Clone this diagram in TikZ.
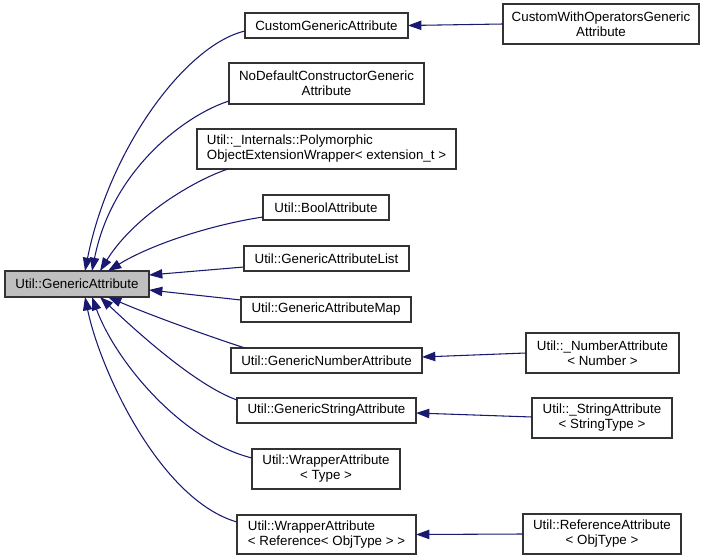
\documentclass[tikz,border=0pt]{standalone}
\usepackage{fontspec}
\setmainfont{Liberation Sans}
\usetikzlibrary{arrows.meta,calc}
\definecolor{navy}{HTML}{191970}
\definecolor{grey75}{HTML}{BFBFBF}
\definecolor{boxline}{HTML}{333333}
\begin{document}
\begin{tikzpicture}[x=0.75pt,y=-0.75pt,
  box/.style n args={2}{draw=boxline, line width=0.85pt, minimum width=#1*0.75pt,
    minimum height=#2*0.75pt, inner sep=0pt, outer sep=0pt,
    font=\fontsize{10}{11.25}\selectfont, align=center},
  edge/.style={draw=navy, line width=0.8pt, -{Triangle[length=10pt,width=7pt]}}]
\useasboundingbox (0,0) rectangle (707,560);
% nodes
\node[box={144}{26}, fill=grey75] (GA) at (77,284) {Util::GenericAttribute};
\node[box={163}{25}] (CGA) at (326.5,25.5) {CustomGenericAttribute};
\node[box={196}{40}] (CWO) at (601,24) {CustomWithOperatorsGeneric\\Attribute};
\node[box={195}{41}] (ND) at (326.5,83.5) {NoDefaultConstructorGeneric\\Attribute};
\node[box={259}{40}, align=left] (PM) at (326.5,149) {Util::\_Internals::Polymorphic\\ObjectExtensionWrapper< extension\_t >};
\node[box={126}{25}] (BA) at (326,207.5) {Util::BoolAttribute};
\node[box={165}{25}] (GAL) at (326.5,258.5) {Util::GenericAttributeList};
\node[box={170}{25}] (GAM) at (326,309.5) {Util::GenericAttributeMap};
\node[box={191}{25}] (GNA) at (326.5,360.5) {Util::GenericNumberAttribute};
\node[box={153}{40}] (NA) at (602.5,353) {Util::\_NumberAttribute\\< Number >};
\node[box={179}{25}] (GSA) at (326.5,410.5) {Util::GenericStringAttribute};
\node[box={140}{40}] (SA) at (602,418) {Util::\_StringAttribute\\< StringType >};
\node[box={148}{40}] (WT) at (326,469) {Util::WrapperAttribute\\< Type >};
\node[box={179}{39}, align=left] (WR) at (326.5,534.5) {Util::WrapperAttribute\\< Reference< ObjType > >};
\node[box={158}{40}] (RA) at (602,534) {Util::ReferenceAttribute\\< ObjType >};
% right-hand edges
\draw[edge] (CWO.west) -- (CGA.east);
\draw[edge] (NA.west) -- ($(GNA.east)+(0,-3.5)$);
\draw[edge] ($(SA.west)+(0,-1)$) -- ($(GSA.east)+(0,2.5)$);
\draw[edge] (RA.west) -- (WR.east);
% edges into GA, top
\draw[edge] ($(CGA.west)+(0,5.5)$) .. controls (185,45) and (109,150) .. ($(GA.north west)+(80,0)$);
\draw[edge] ($(ND.west)+(0,17.5)$) .. controls (185,115) and (112,170) .. ($(GA.north west)+(87,0)$);
\draw[edge] ($(PM.south west)+(31,0)$) .. controls (195,180) and (135,215) .. ($(GA.north west)+(95,0)$);
\draw[edge] ($(BA.west)+(0,9.5)$) .. controls (210,225) and (150,245) .. ($(GA.north west)+(103,0)$);
% straight edges
\draw[edge] ($(GAL.south west)+(0,-4)$) -- ($(GA.north east)+(0,4)$);
\draw[edge] ($(GAM.north west)+(0,3)$) -- ($(GA.south east)+(0,-7)$);
% edges into GA, bottom
\draw[edge] ($(GNA.north west)+(14,0)$) .. controls (205,335) and (150,315) .. ($(GA.south west)+(103,0)$);
\draw[edge] ($(GSA.north west)+(0,2)$) .. controls (195,385) and (135,330) .. ($(GA.south west)+(95,0)$);
\draw[edge] ($(WT.north west)+(0,9)$) .. controls (180,440) and (115,360) .. ($(GA.south west)+(87,0)$);
\draw[edge] ($(WR.north west)+(0,7)$) .. controls (160,500) and (100,370) .. ($(GA.south west)+(80,0)$);
\end{tikzpicture}
\end{document}
